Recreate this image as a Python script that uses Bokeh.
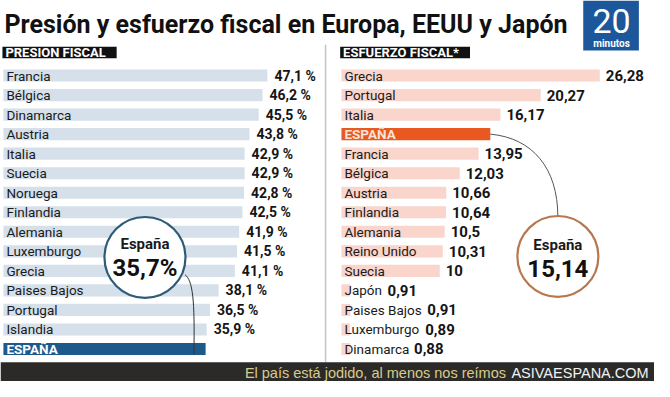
from bokeh.plotting import figure
from bokeh.models import Range1d
from bokeh.core.properties import value
from bokeh.embed import file_html
from bokeh.resources import INLINE

# ---------------- data ----------------
title_text = "Presión y esfuerzo fiscal en Europa, EEUU y Japón"
left_header = "PRESION FISCAL"
right_header = "ESFUERZO FISCAL*"

pf_countries = ["Francia", "Bélgica", "Dinamarca", "Austria", "Italia", "Suecia", "Noruega",
                "Finlandia", "Alemania", "Luxemburgo", "Grecia", "Paises Bajos", "Portugal",
                "Islandia", "ESPAÑA"]
pf_values = [47.1, 46.2, 45.5, 43.8, 42.9, 42.9, 42.8, 42.5, 41.9, 41.5, 41.1, 38.1, 36.5, 35.9, 35.7]
pf_labels = ["47,1 %", "46,2 %", "45,5 %", "43,8 %", "42,9 %", "42,9 %", "42,8 %", "42,5 %",
             "41,9 %", "41,5 %", "41,1 %", "38,1 %", "36,5 %", "35,9 %", ""]

ef_countries = ["Grecia", "Portugal", "Italia", "ESPAÑA", "Francia", "Bélgica", "Austria",
                "Finlandia", "Alemania", "Reino Unido", "Suecia", "Japón", "Paises Bajos",
                "Luxemburgo", "Dinamarca"]
ef_values = [26.28, 20.27, 16.17, 15.14, 13.95, 12.03, 10.66, 10.64, 10.5, 10.31, 10, 0.91, 0.91, 0.89, 0.88]
ef_labels = ["26,28", "20,27", "16,17", "", "13,95", "12,03", "10,66", "10,64", "10,5", "10,31",
             "10", "0,91", "0,91", "0,89", "0,88"]

spain_pf_text = "35,7%"
spain_ef_text = "15,14"
footer_a = "El país está jodido, al menos nos reímos"
footer_b = "ASIVAESPANA.COM"

# ---------------- layout constants (reference pixel space) ----------------
W, H = 654, 381
X0, X1 = 0, 670
YB, YT = 397, 1
L_ZERO, L_SCALE = 12.0, 5.55     # left panel: px = L_ZERO + L_SCALE * v
R_ZERO, R_SCALE = 349.3, 10.07   # right panel
ROW0, ROW_STEP = 79.0, 20.3      # row centre px = ROW0 + ROW_STEP * i

FONT = "Roboto"
SANS = "Liberation Sans"

p = figure(width=W, height=H, x_range=Range1d(X0, X1), y_range=Range1d(YB, YT),
           x_axis_type=None, y_axis_type=None, output_backend="svg",
           toolbar_location=None, min_border=0, outline_line_color=None,
           background_fill_color="white", border_fill_color="white")
p.grid.visible = False

p.extra_x_ranges = {
    "L": Range1d((X0 - L_ZERO) / L_SCALE, (X1 - L_ZERO) / L_SCALE),
    "R": Range1d((X0 - R_ZERO) / R_SCALE, (X1 - R_ZERO) / R_SCALE),
}
p.extra_y_ranges = {"rows": Range1d((YB - ROW0) / ROW_STEP, (YT - ROW0) / ROW_STEP)}

rows = list(range(len(pf_countries)))
BAR_H = 0.62

# ---------------- title / logo ----------------
p.text(x=[4], y=[26], text=[title_text], text_font=value(FONT), text_font_style="bold",
       text_font_size="25px", text_color="#111111", text_baseline="alphabetic")
p.quad(left=[597], right=[654], top=[1], bottom=[53], fill_color="#1b579a", line_color=None)
p.text(x=[626], y=[22], text=["20"], text_font=value(FONT), text_font_size="34px",
       text_color="white", text_align="center", text_baseline="middle")
p.text(x=[626], y=[46], text=["minutos"], text_font=value(FONT), text_font_style="bold",
       text_font_size="10px", text_color="white", text_align="center", text_baseline="middle")

# ---------------- headers and divider ----------------
p.quad(left=[2, 348], right=[119, 481], top=[49, 49], bottom=[61, 61], fill_color="#111111",
       line_color=None)
p.text(x=[5, 351], y=[55.5, 55.5], text=[left_header, right_header], text_font=value(FONT),
       text_font_style="bold", text_font_size="13px", text_color="white", text_baseline="middle")
p.segment(x0=[333], y0=[47], x1=[333], y1=[377], line_color="#c4c4c4", line_width=1.5)

# ---------------- left panel: presión fiscal ----------------
l_base = (X0 + 3 - L_ZERO) / L_SCALE
l_colors = ["#1c5a8c" if c == "ESPAÑA" else "#d6e0ea" for c in pf_countries]
p.hbar(y=rows, height=BAR_H, left=l_base, right=pf_values, fill_color=l_colors,
       line_color=None, x_range_name="L", y_range_name="rows")
for i, c in enumerate(pf_countries):
    col = "white" if c == "ESPAÑA" else "#1a1a1a"
    sty = "bold" if c == "ESPAÑA" else "normal"
    p.text(x=[l_base], y=[i], text=[c], x_offset=3, text_font=value(FONT),
           text_font_style=sty, text_font_size="13.5px", text_color=col, text_baseline="middle",
           x_range_name="L", y_range_name="rows")
p.text(x=pf_values, y=rows, text=pf_labels, x_offset=7, text_font=value(FONT),
       text_font_style="bold", text_font_size="14px", text_color="#151515",
       text_baseline="middle", x_range_name="L", y_range_name="rows")

# ---------------- right panel: esfuerzo fiscal ----------------
r_colors = ["#e8581f" if c == "ESPAÑA" else "#fad5cc" for c in ef_countries]
p.hbar(y=rows, height=BAR_H, left=0, right=ef_values, fill_color=r_colors,
       line_color=None, x_range_name="R", y_range_name="rows")
for i, c in enumerate(ef_countries):
    col = "#fbe3d6" if c == "ESPAÑA" else "#1a1a1a"
    sty = "bold" if c == "ESPAÑA" else "normal"
    p.text(x=[0], y=[i], text=[c], x_offset=3, text_font=value(FONT), text_font_style=sty,
           text_font_size="13.5px", text_color=col, text_baseline="middle",
           x_range_name="R", y_range_name="rows")


def est_width(s, px=13.5):
    w = 0.0
    for ch in s:
        if ch in "iljI ,.":
            w += 0.25
        elif ch in "rtf":
            w += 0.34
        elif ch in "mM":
            w += 0.87
        elif ch.isupper():
            w += 0.62
        else:
            w += 0.55
    return w * px


ef_lab_x = []
for c, v in zip(ef_countries, ef_values):
    label_end_v = (3 + est_width(c)) / R_SCALE
    ef_lab_x.append(max(v, label_end_v))
p.text(x=ef_lab_x, y=rows, text=ef_labels, x_offset=6, text_font=value(FONT),
       text_font_style="bold", text_font_size="15px", text_color="#151515",
       text_baseline="middle", x_range_name="R", y_range_name="rows")

# ---------------- call-out circles ----------------
spain_l_end = L_ZERO + L_SCALE * pf_values[pf_countries.index("ESPAÑA")]
spain_r_end = R_ZERO + R_SCALE * ef_values[ef_countries.index("ESPAÑA")]
spain_r_y = ROW0 + ROW_STEP * ef_countries.index("ESPAÑA")
spain_l_y = ROW0 + ROW_STEP * pf_countries.index("ESPAÑA")

p.bezier(x0=[189], y0=[286], x1=[spain_l_end - 12], y1=[spain_l_y + 5],
         cx0=[197], cy0=[292], cx1=[spain_l_end - 11], cy1=[312],
         line_color="#333333", line_width=1)
p.bezier(x0=[spain_r_end], y0=[spain_r_y], x1=[571], y1=[226],
         cx0=[545], cy0=[spain_r_y + 4], cx1=[571], cy1=[175],
         line_color="#555555", line_width=1)

p.ellipse(x=[148, 571], y=[268, 267], width=[83, 83], height=[84, 84], fill_color="white",
          line_color=["#2e5b78", "#b9774f"], line_width=2.2)
p.text(x=[148, 571], y=[254, 255], text=["España", "España"], text_font=value(FONT),
       text_font_style="bold", text_font_size="15px", text_color="#1a1a1a",
       text_align="center", text_baseline="middle")
p.text(x=[148, 571], y=[279, 280], text=[spain_pf_text, spain_ef_text], text_font=value(FONT),
       text_font_style="bold", text_font_size="24px", text_color="#111111",
       text_align="center", text_baseline="middle")

# ---------------- footer ----------------
FOOT_PX = 14.5
FOOT_B_EM = 9.5   # approx. Arial advance of footer_b in em
foot_b_width_ref = FOOT_B_EM * FOOT_PX * (X1 - X0) / W
p.quad(left=[X0], right=[X1], top=[377], bottom=[397], fill_color="#2b2a28", line_color=None)
p.text(x=[664], y=[388.5], text=[footer_b], text_font=value(SANS), text_font_size=f"{FOOT_PX}px",
       text_color="#f2f2f2", text_align="right", text_baseline="alphabetic")
p.text(x=[664 - foot_b_width_ref - 5], y=[388.5], text=[footer_a], text_font=value(SANS),
       text_font_size=f"{FOOT_PX}px", text_color="#d8ca8c", text_align="right",
       text_baseline="alphabetic")

open("out.html", "w").write(file_html(p, INLINE))
